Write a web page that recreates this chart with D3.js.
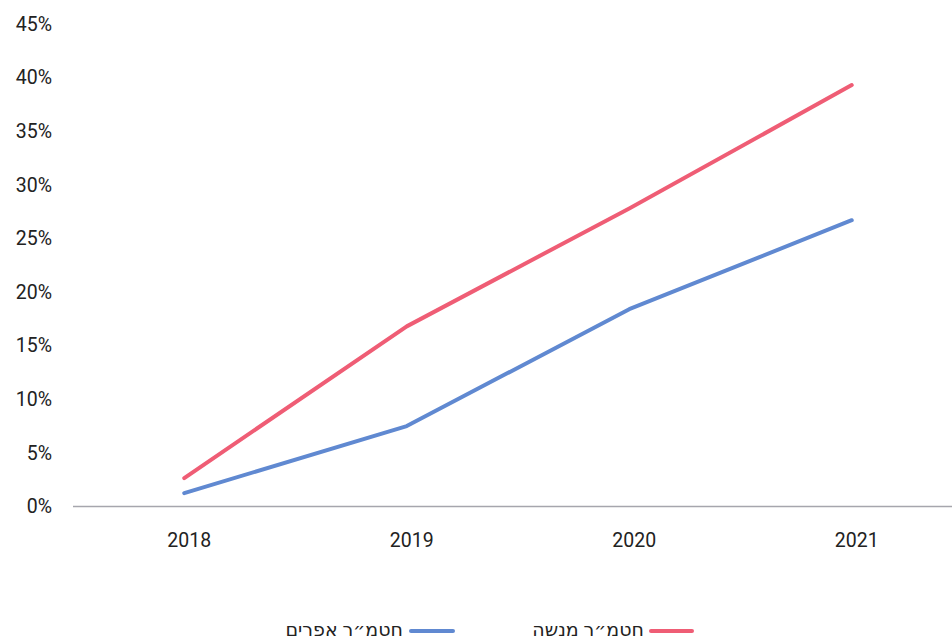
<!DOCTYPE html>
<html><head><meta charset="utf-8">
<script src="https://cdn.jsdelivr.net/npm/d3@7"></script>
<style>body{margin:0;background:#fff}</style>
</head><body>
<svg id="c" width="952" height="641"></svg>
<script>
const years = ["2018","2019","2020","2021"];
const seriesNames = ["חטמ״ר אפרים","חטמ״ר מנשה"];
const ephraim = [1.25, 7.5, 18.4, 26.7];
const menashe = [2.65, 16.8, 27.8, 39.3];
const yTicks = [0,5,10,15,20,25,30,35,40,45];
const colors = ["#6089d1","#ef5d75"];

const svg = d3.select("#c");
const x = d3.scalePoint().domain(years).range([73, 963]).padding(0.5);
const y = d3.scaleLinear().domain([0,45]).range([506.5, 24]);
const font = "Roboto, 'DejaVu Sans', sans-serif";

// x axis line
svg.append("line").attr("x1",73).attr("x2",952).attr("y1",y(0)).attr("y2",y(0))
  .attr("stroke","#a6a6ad").attr("stroke-width",1.3);

// y labels
svg.selectAll(".yt").data(yTicks).enter().append("text")
  .attr("x",52).attr("y",d=>y(d)).attr("dy","0.35em").attr("text-anchor","end")
  .attr("font-family",font).attr("font-size",19.5).attr("fill","#222")
  .text(d=>d+"%");

// x labels
svg.selectAll(".xt").data(years).enter().append("text")
  .attr("x",d=>x(d)+5).attr("y",540).attr("dy","0.35em").attr("text-anchor","middle")
  .attr("font-family",font).attr("font-size",19.5).attr("fill","#222")
  .text(d=>d);

const line = d3.line().x((d,i)=>x(years[i])).y(d=>y(d));
[ephraim, menashe].forEach((s,k)=>{
  svg.append("path").datum(s).attr("d",line).attr("fill","none")
    .attr("stroke",colors[k]).attr("stroke-width",4).attr("stroke-linecap","round")
    .attr("stroke-linejoin","round");
});

// legend
const leg = [{x1:411,x2:453,tx:403},{x1:651,x2:692,tx:644}];
leg.forEach((l,k)=>{
  svg.append("line").attr("x1",l.x1).attr("x2",l.x2).attr("y1",631).attr("y2",631)
    .attr("stroke",colors[k]).attr("stroke-width",4).attr("stroke-linecap","round");
  svg.append("text").attr("x",l.tx).attr("y",629).attr("dy","0.35em")
    .attr("text-anchor","end").attr("font-family",font).attr("font-size",19).attr("fill","#222")
    .text(seriesNames[k]);
});
</script>
</body></html>
